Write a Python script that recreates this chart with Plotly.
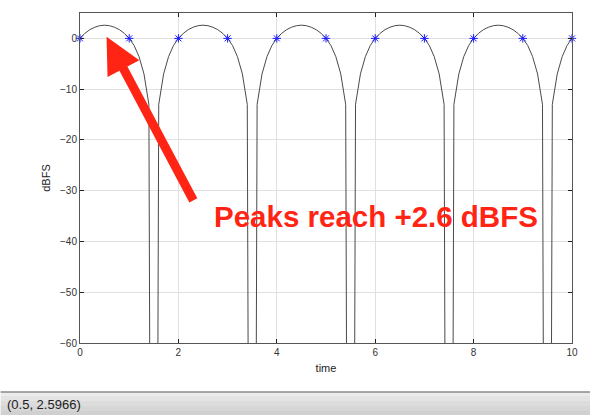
import plotly.graph_objects as go

# --- data ---
time = [0.0, 0.1, 0.2, 0.3, 0.4, 0.5, 0.6, 0.7, 0.8, 0.9,
        1.0, 1.1, 1.2, 1.3, 1.4, 1.5, 1.6, 1.7, 1.8, 1.9,
        2.0, 2.1, 2.2, 2.3, 2.4, 2.5, 2.6, 2.7, 2.8, 2.9,
        3.0, 3.1, 3.2, 3.3, 3.4, 3.5, 3.6, 3.7, 3.8, 3.9,
        4.0, 4.1, 4.2, 4.3, 4.4, 4.5, 4.6, 4.7, 4.8, 4.9,
        5.0, 5.1, 5.2, 5.3, 5.4, 5.5, 5.6, 5.7, 5.8, 5.9,
        6.0, 6.1, 6.2, 6.3, 6.4, 6.5, 6.6, 6.7, 6.8, 6.9,
        7.0, 7.1, 7.2, 7.3, 7.4, 7.5, 7.6, 7.7, 7.8, 7.9,
        8.0, 8.1, 8.2, 8.3, 8.4, 8.5, 8.6, 8.7, 8.8, 8.9,
        9.0, 9.1, 9.2, 9.3, 9.4, 9.5, 9.6, 9.7, 9.8, 9.9, 10.0]

level_dbfs = [0.0, 1.0, 1.72, 2.2, 2.5, 2.6, 2.5, 2.2, 1.72, 1.0,
              0.0, -1.4, -3.6, -7.0, -13.0, -300.0,
              -13.0, -7.0, -3.6, -1.4, 0.0, 1.0, 1.72, 2.2, 2.5, 2.6,
              2.5, 2.2, 1.72, 1.0, 0.0, -1.4, -3.6, -7.0, -13.0, -300.0,
              -13.0, -7.0, -3.6, -1.4, 0.0, 1.0, 1.72, 2.2, 2.5, 2.6,
              2.5, 2.2, 1.72, 1.0, 0.0, -1.4, -3.6, -7.0, -13.0, -300.0,
              -13.0, -7.0, -3.6, -1.4, 0.0, 1.0, 1.72, 2.2, 2.5, 2.6,
              2.5, 2.2, 1.72, 1.0, 0.0, -1.4, -3.6, -7.0, -13.0, -300.0,
              -13.0, -7.0, -3.6, -1.4, 0.0, 1.0, 1.72, 2.2, 2.5, 2.6,
              2.5, 2.2, 1.72, 1.0, 0.0, -1.4, -3.6, -7.0, -13.0, -300.0,
              -13.0, -7.0, -3.6, -1.4, 0.0]

sample_time = [0, 1, 2, 3, 4, 5, 6, 7, 8, 9, 10]
sample_dbfs = [0, 0, 0, 0, 0, 0, 0, 0, 0, 0, 0]

x_ticks = [0, 2, 4, 6, 8, 10]
y_ticks = [-60, -50, -40, -30, -20, -10, 0]

annotation_text = "Peaks reach +2.6 dBFS"
status_text = "(0.5, 2.5966)"

RED = "#ff2414"
FONT = "Liberation Sans, Arial, sans-serif"

fig = go.Figure()
fig.add_trace(go.Scatter(x=time, y=level_dbfs, mode="lines",
                         line=dict(color="#4a4a4a", width=1),
                         showlegend=False, hoverinfo="skip"))
fig.add_trace(go.Scatter(x=sample_time, y=sample_dbfs, mode="markers",
                         marker=dict(symbol="asterisk-open", size=7,
                                     color="#1a1aff",
                                     line=dict(color="#1a1aff", width=1)),
                         showlegend=False, cliponaxis=False))

axis_common = dict(showgrid=True, gridcolor="#e0e0e0", gridwidth=1,
                   zeroline=False, showline=True, linecolor="#555555",
                   linewidth=1, mirror="ticks", ticks="inside", ticklen=4,
                   tickcolor="#222222",
                   tickfont=dict(family=FONT, size=10, color="#333333"))

fig.update_xaxes(range=[0, 10], tickvals=x_ticks,
                 title=dict(text="time", standoff=7,
                            font=dict(family=FONT, size=11, color="#222222")),
                 **axis_common)
fig.update_yaxes(range=[-60, 5], tickvals=y_ticks,
                 title=dict(text="dBFS", standoff=7,
                            font=dict(family=FONT, size=11, color="#222222")),
                 **axis_common)

# arrow
fig.add_annotation(x=0.54, y=0.3, ax=2.32, ay=-32.2, axref="x", ayref="y",
                   xref="x", yref="y", text="", showarrow=True,
                   arrowhead=2, arrowsize=0.8, arrowwidth=9,
                   arrowcolor=RED)
# big text
fig.add_annotation(x=6.02, y=-35.0, xref="x", yref="y", text=annotation_text,
                   showarrow=False, xanchor="center", yanchor="middle",
                   font=dict(family="Liberation Sans Narrow, " + FONT,
                             size=29.5, color=RED, weight="bold"))

# status bar (bottom strip of the window)
plot_h = 330.0
plot_w = 496.0
def py(pix):
    return (343.0 - pix) / plot_h
x0 = -80.0 / plot_w
x1 = (600.0 - 80.0) / plot_w
bands = [(392, 396, "#ececec"), (396, 401, "#e4e4e4"), (401, 406, "#dcdcdc"),
         (406, 411, "#d6d6d6"), (411, 416, "#d0d0d0")]
for a, b, c in bands:
    fig.add_shape(type="rect", xref="paper", yref="paper", x0=x0, x1=x1,
                  y0=py(b), y1=py(a), fillcolor=c, line=dict(width=0),
                  layer="below")
fig.add_shape(type="line", xref="paper", yref="paper", x0=x0, x1=x1,
              y0=py(392), y1=py(392), line=dict(color="#8a8a8a", width=1.5))
fig.add_annotation(xref="paper", yref="paper", x=(4 - 80) / plot_w,
                   y=py(404), text=status_text, showarrow=False,
                   xanchor="left", yanchor="middle",
                   font=dict(family=FONT, size=13, color="#222222"))

fig.update_layout(width=590, height=415, autosize=False,
                  margin=dict(l=80, r=14, t=13, b=72, pad=0),
                  plot_bgcolor="white", paper_bgcolor="white")

fig.write_html("out.html", config={"displayModeBar": False},
               post_script="document.body.style.margin='0';"
                           "document.body.style.overflow='hidden';")
